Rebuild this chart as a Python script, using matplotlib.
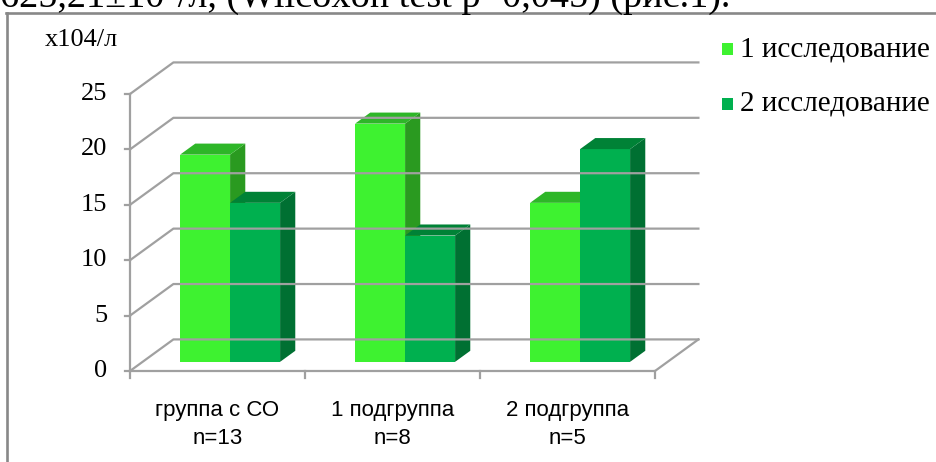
import matplotlib
matplotlib.use("Agg")
import matplotlib.pyplot as plt
from matplotlib.patches import Polygon
from matplotlib.lines import Line2D

# данные
categories = ["группа с СО\nn=13", "1 подгруппа\nn=8", "2 подгруппа\nn=5"]
series_names = ["1 исследование", "2 исследование"]
study1 = [18.7, 21.5, 14.35]
study2 = [14.35, 11.4, 19.2]
yticks = [0, 5, 10, 15, 20, 25]

# цвета граней столбцов: передняя, верхняя, боковая
FACE = [("#3ef230", "#2eb628", "#2a9a20"), ("#00b04f", "#008236", "#007032")]
GRID = "#a0a0a0"
SERIF = "Liberation Serif"

# косоугольная проекция: сдвиг задней стенки в единицах осей
DX, DY = 0.248, 2.85
Z0, ZD = 0.29, 0.35          # положение и глубина столбцов
BAR_W = 1 / 3.5              # зазор 150%

W, H = 936, 462
fig = plt.figure(figsize=(W / 100, H / 100), dpi=100)

# рамка (обрезана справа и снизу)
fig.add_artist(Line2D([6 / W, 1], [1 - 13 / H, 1 - 13 / H], color="#888888", lw=1.9))
fig.add_artist(Line2D([7 / W, 7 / W], [1 - 13 / H, 0], color="#888888", lw=1.9))

# строка текста над рисунком
fig.text(0.0, 1 - 7 / H, "625,21±10\u2074/л, (Wilcoxon test p=0,045) (рис.1).",
         family=SERIF, fontsize=27.5, va="baseline", ha="left")

px_x, px_y = 175.0, 11.08
ymax = yticks[-1] + DY
xmax = len(categories) + DX
ax = fig.add_axes([130 / W, (H - 371) / H, xmax * px_x / W, ymax * px_y / H])
ax.set_xlim(0, xmax)
ax.set_ylim(0, ymax)
ax.axis("off")

n = len(categories)
# стенки и сетка
for v in yticks:
    ax.plot([0, DX, n + DX], [v, v + DY, v + DY], color=GRID, lw=1.6, clip_on=False)
    ax.plot([-0.03, 0], [v, v], color=GRID, lw=1.6, clip_on=False)
    ax.text(-0.13, v, str(v), ha="right", va="center", family=SERIF, fontsize=19)
ax.plot([0, 0], [0, yticks[-1]], color=GRID, lw=1.6, clip_on=False)
# пол
ax.plot([0, n, n + DX], [0, 0, DY], color=GRID, lw=1.6, clip_on=False)
for i in range(n + 1):
    ax.plot([i, i], [0, -0.6], color=GRID, lw=1.6, clip_on=False)

# столбцы
for i in range(n):
    for j, vals in enumerate([study1, study2]):
        v = vals[i]
        front, top, side = FACE[j]
        x0 = i + (1 - 2 * BAR_W) / 2 + j * BAR_W + Z0 * DX
        y0 = Z0 * DY
        x1 = x0 + BAR_W
        dx, dy = ZD * DX, ZD * DY
        ax.add_patch(Polygon([(x0, y0), (x1, y0), (x1, y0 + v), (x0, y0 + v)],
                             closed=True, fc=front, ec="none"))
        ax.add_patch(Polygon([(x1, y0), (x1 + dx, y0 + dy), (x1 + dx, y0 + v + dy), (x1, y0 + v)],
                             closed=True, fc=side, ec="none"))
        ax.add_patch(Polygon([(x0, y0 + v), (x1, y0 + v), (x1 + dx, y0 + v + dy), (x0 + dx, y0 + v + dy)],
                             closed=True, fc=top, ec="none"))
    ax.text(i + 0.5, -2.6, categories[i], ha="center", va="top", family="Liberation Sans",
            fontsize=16, linespacing=1.45)

# подпись единиц
fig.text(45 / W, 1 - 40 / H, "x104/л", family=SERIF, fontsize=19,
         ha="left", va="center")

# легенда
for k, name in enumerate(series_names):
    yc = 1 - (49 + 55 * k) / H
    fig.add_artist(Polygon([(722 / W, yc - 6 / H), (733 / W, yc - 6 / H),
                            (733 / W, yc + 6 / H), (722 / W, yc + 6 / H)],
                           closed=True, fc=FACE[k][0], ec="none"))
    fig.text(740 / W, yc, name, family=SERIF, fontsize=21, ha="left", va="center")

fig.savefig("out.png", dpi=100)
